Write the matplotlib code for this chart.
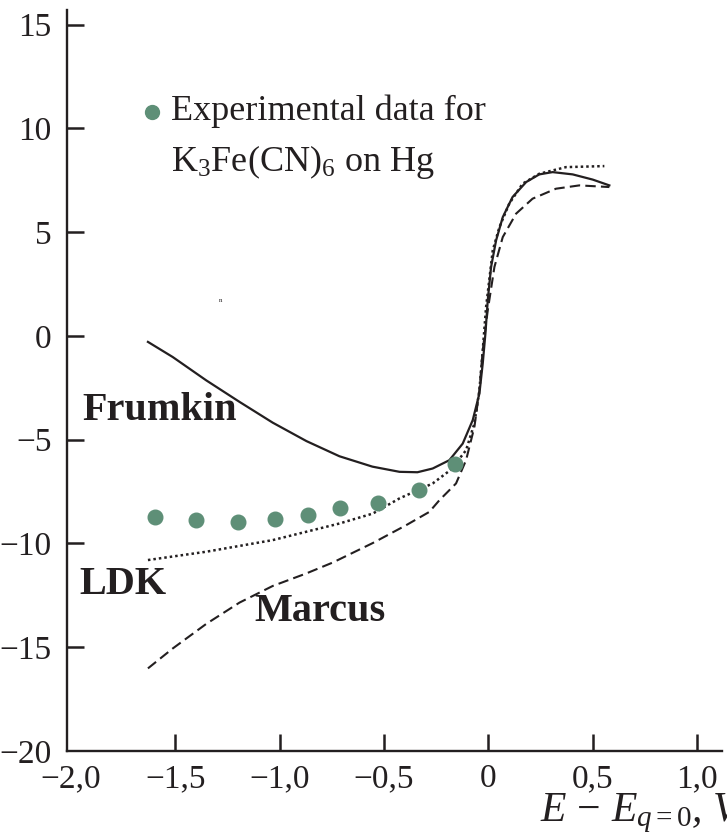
import numpy as np
import matplotlib.pyplot as plt

plt.rcParams['font.family'] = ['Liberation Serif', 'DejaVu Serif']
plt.rcParams['mathtext.fontset'] = 'custom'
plt.rcParams['mathtext.rm'] = 'Liberation Serif'
plt.rcParams['mathtext.it'] = 'Liberation Serif:italic'

ink = '#231f20'
green = '#5e8f77'

# experimental points (K3Fe(CN)6 on Hg)
exp_x = [-1.60, -1.40, -1.20, -1.025, -0.867, -0.709, -0.527, -0.331, -0.158]
exp_y = [-8.73, -8.88, -8.97, -8.83, -8.64, -8.30, -8.06, -7.43, -6.18]

# Frumkin (solid)
frum_x = [-1.632, -1.513, -1.353, -1.193, -1.034, -0.872, -0.714, -0.556, -0.426,
          -0.340, -0.267, -0.187, -0.123, -0.075, -0.043, -0.027, -0.014, -0.003,
          0.013, 0.037, 0.069, 0.116, 0.181, 0.244, 0.308, 0.404, 0.500, 0.580]
frum_y = [-0.29, -1.02, -2.14, -3.18, -4.18, -5.07, -5.80, -6.30, -6.55,
          -6.57, -6.39, -5.99, -5.19, -4.06, -2.78, -1.33, 0.13, 1.71,
          3.32, 4.60, 5.72, 6.69, 7.41, 7.78, 7.89, 7.78, 7.53, 7.25]

# LDK (dotted)
ldk_x = [-1.632, -1.353, -1.034, -0.874, -0.714, -0.554, -0.426, -0.267, -0.180,
         -0.107, -0.067, -0.043, -0.027, -0.011, 0.021, 0.053, 0.100, 0.164,
         0.244, 0.372, 0.556]
ldk_y = [-10.80, -10.40, -9.84, -9.44, -9.04, -8.56, -7.83, -7.11, -6.45,
         -5.51, -4.22, -2.62, -0.69, 1.39, 4.12, 5.24, 6.37, 7.33,
         7.81, 8.13, 8.18]

# Marcus (dashed)
mar_x = [-1.632, -1.513, -1.353, -1.193, -1.034, -0.874, -0.746, -0.554, -0.394,
         -0.283, -0.235, -0.155, -0.107, -0.067, -0.043, -0.027, -0.003, 0.029,
         0.069, 0.133, 0.212, 0.324, 0.436, 0.580]
mar_y = [-16.02, -15.06, -13.88, -12.85, -12.05, -11.45, -10.92, -9.98, -9.12,
         -8.48, -7.92, -7.11, -5.99, -4.39, -2.62, -0.69, 1.23, 3.32,
         4.76, 5.89, 6.61, 7.09, 7.25, 7.17]

xticks = [-2.0, -1.5, -1.0, -0.5, 0.0, 0.5, 1.0]
xtick_labels = ['\u22122,0', '\u22121,5', '\u22121,0', '\u22120,5', '0', '0,5', '1,0']
yticks = [-20, -15, -10, -5, 0, 5, 10, 15]
ytick_labels = ['\u221220', '\u221215', '\u221210', '\u22125', '0', '5', '10', '15']

fig = plt.figure(figsize=(7.27, 8.38), dpi=100)
ax = fig.add_axes([67/727, 87/838, (722-67)/727, (751-10)/838])

ax.plot(frum_x, frum_y, '-', color=ink, lw=1.6, solid_joinstyle='round')
ax.plot(ldk_x, ldk_y, color=ink, lw=1.8, linestyle=(0, (1, 1.2)))
ax.plot(mar_x, mar_y, color=ink, lw=1.5, linestyle=(0, (5, 2.5)))
ax.plot(exp_x, exp_y, 'o', color=green, ms=10.5, mec=green)

ax.set_xlim(-2.02, 1.12)
ax.set_ylim(-20, 15.7)
ax.set_xticks(xticks)
ax.set_xticklabels(xtick_labels)
ax.set_yticks(yticks)
ax.set_yticklabels(ytick_labels)
ax.tick_params(direction='in', length=12, width=1.8, colors=ink, labelsize=24)
ax.tick_params(axis='x', pad=9)
ax.tick_params(axis='y', pad=11)
ax.xaxis.get_major_ticks()[0].tick1line.set_visible(False)
ax.yaxis.get_major_ticks()[0].tick1line.set_visible(False)

for s in ['top', 'right']:
    ax.spines[s].set_visible(False)
for s in ['left', 'bottom']:
    ax.spines[s].set_linewidth(1.7)
    ax.spines[s].set_color(ink)

# legend-like note
ax.plot([-1.614], [10.8], 'o', color=green, ms=10, mec=green)
ax.text(-1.52, 10.8, 'Experimental data for', fontsize=26, color=ink, va='center')
ax.text(-1.52, 8.4, 'K$_3$Fe(CN)$_6$ on Hg', fontsize=26, color=ink, va='center')

ax.text(-1.945, -3.6, 'Frumkin', fontsize=29, fontweight='bold', color=ink, va='center')
ax.text(-1.96, -12.0, 'LDK', fontsize=29, fontweight='bold', color=ink, va='center')
ax.text(-1.121, -13.3, 'Marcus', fontsize=29, fontweight='bold', color=ink, va='center')
ax.text(-1.294, 1.71, 'n', fontsize=5, color=ink, va='center')

fig.text(540/727, 1 - 813/838, '$E\\,-\\,E_{q=0}$, V', fontsize=30, color=ink,
         va='center', ha='left', style='italic')

fig.savefig('out.png', dpi=100)
